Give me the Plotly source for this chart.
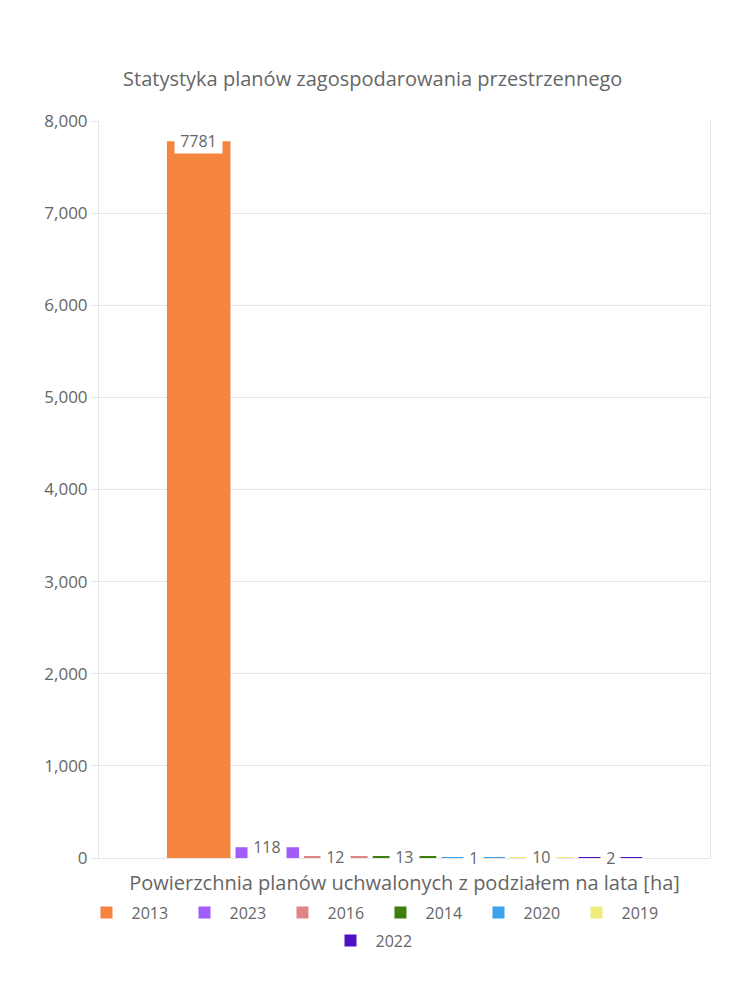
import plotly.graph_objects as go

years = ["2013", "2023", "2016", "2014", "2020", "2019", "2022"]
values = [7781, 118, 12, 13, 1, 10, 2]
colors = ["#F5843F", "#A25CF9", "#E08585", "#3F7F0F", "#3BA3E8", "#F0EB7F", "#4F10C3"]
y_ticks = [0, 1000, 2000, 3000, 4000, 5000, 6000, 7000, 8000]

title_text = "Statystyka planów zagospodarowania przestrzennego"
x_title = "Powierzchnia planów uchwalonych z podziałem na lata [ha]"

FONT = "Open Sans"
GRAY = "#666666"
GRID = "#e5e5e5"
BARGAP = 0.214
BARGROUPGAP = 0.074
NBSP = "\u00a0"

fig = go.Figure()
n = len(years)
for i, (yr, v, c) in enumerate(zip(years, values, colors)):
    fig.add_trace(go.Bar(
        x=[0], y=[v], name=yr, marker=dict(color=c, line=dict(width=0)),
        legend="legend2" if i == n - 1 else "legend",
        hoverinfo="skip",
    ))

# value labels centered on the bar tops, with white background
group_w = 1 - BARGAP
slot = group_w / n
for i, v in enumerate(values):
    fig.add_annotation(
        x=-group_w / 2 + (i + 0.5) * slot, y=v, xref="x", yref="y",
        text=NBSP + str(v) + NBSP, showarrow=False, yanchor="middle", xanchor="center",
        bgcolor="white", borderpad=1,
        font=dict(family=FONT, size=16, color=GRAY),
    )

fig.update_layout(
    width=750, height=1000,
    margin=dict(l=99, r=40, t=121, b=142),
    paper_bgcolor="white", plot_bgcolor="white",
    barmode="group", bargap=BARGAP, bargroupgap=BARGROUPGAP,
    font=dict(family=FONT, color=GRAY, size=16),
    title=dict(text=title_text, x=0.497, xanchor="center", y=1 - 79 / 1000,
               yanchor="middle", yref="container",
               font=dict(family=FONT, size=20, color=GRAY)),
    xaxis=dict(range=[-0.5, 0.5], showticklabels=False, showgrid=False,
               zeroline=False, showline=True, linecolor=GRID, linewidth=1,
               title=dict(text=x_title, standoff=17,
                          font=dict(family=FONT, size=20, color=GRAY))),
    yaxis=dict(range=[0, 8000], tickvals=y_ticks, tickformat=",d",
               showgrid=True, gridcolor=GRID, zeroline=False,
               showline=True, linecolor=GRID, mirror=True,
               ticks="outside", ticklen=7, tickcolor=GRID,
               tickfont=dict(family=FONT, size=17, color=GRAY)),
    legend=dict(orientation="h", x=0.4525, xanchor="center", y=-0.051, yanchor="top",
                entrywidth=43, itemwidth=40,
                font=dict(family=FONT, size=16, color=GRAY)),
    legend2=dict(orientation="h", x=0.446, xanchor="center", y=-0.089, yanchor="top",
                 itemwidth=40, font=dict(family=FONT, size=16, color=GRAY)),
    showlegend=True,
)

fig.write_html("out.html")
